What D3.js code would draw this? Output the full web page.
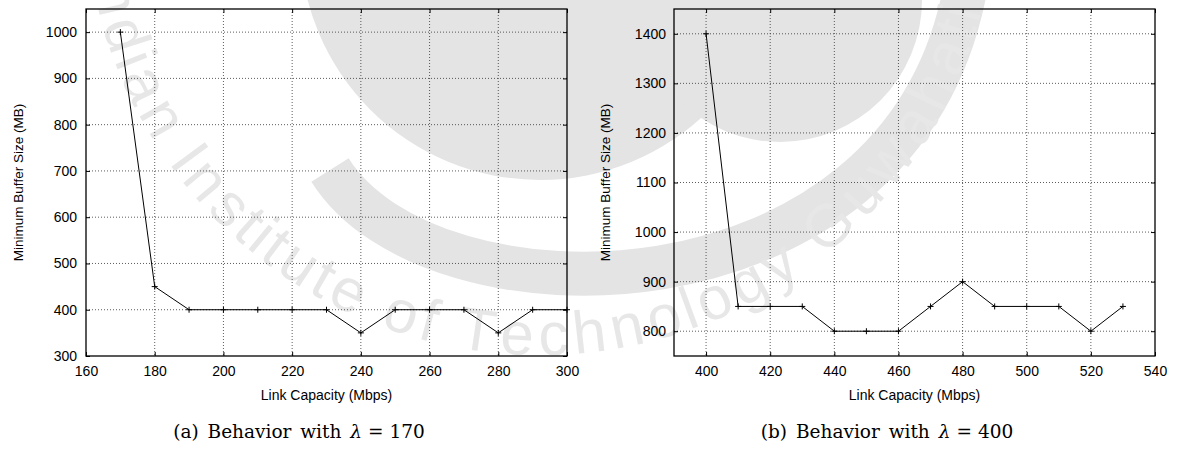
<!DOCTYPE html>
<html>
<head>
<meta charset="utf-8">
<script src="https://cdn.jsdelivr.net/npm/d3@7"></script>
<style>
  body { margin: 0; background: #fff; }
  svg { display: block; }
</style>
</head>
<body>
<div id="chart"></div>
<script>
// panel (a): lambda = 170
const capacityA = [170, 180, 190, 200, 210, 220, 230, 240, 250, 260, 270, 280, 290, 300];
const bufferA = [1000, 450, 400, 400, 400, 400, 400, 350, 400, 400, 400, 350, 400, 400];
const xTicksA = [160, 180, 200, 220, 240, 260, 280, 300];
const yTicksA = [300, 400, 500, 600, 700, 800, 900, 1000];

// panel (b): lambda = 400
const capacityB = [400, 410, 420, 430, 440, 450, 460, 470, 480, 490, 500, 510, 520, 530];
const bufferB = [1400, 850, 850, 850, 800, 800, 800, 850, 900, 850, 850, 850, 800, 850];
const xTicksB = [400, 420, 440, 460, 480, 500, 520, 540];
const yTicksB = [800, 900, 1000, 1100, 1200, 1300, 1400];

const captions = [
  { tag: '(a) Behavior with ', lambda: '170' },
  { tag: '(b) Behavior with ', lambda: '400' }
];
const sealText = 'Indian Institute of Technology Guwahati';

const W = 1178, H = 454;
const sans = "'Liberation Sans', Arial, Helvetica, sans-serif";
const svg = d3.select('#chart').append('svg')
  .attr('width', W)
  .attr('height', H);

// faint watermark of the institute seal behind everything
function drawWatermark() {
  const g = svg.append('g').attr('class', 'watermark');
  const grey = '#e4e4e4';
  g.append('circle')
    .attr('cx', 540).attr('cy', -60).attr('r', 240)
    .attr('fill', grey);
  g.append('circle')
    .attr('cx', 780).attr('cy', 0).attr('r', 142)
    .attr('fill', grey);
  // the swoosh under the seal
  g.append('path')
    .attr('d', 'M330,170 C430,330 900,330 965,-10')
    .attr('fill', 'none')
    .attr('stroke', grey)
    .attr('stroke-width', 44);

  // lettering round the seal, one glyph at a time
  const fs = 60, cx = 540, cy = -100, r = 455;
  const a0 = 172 * Math.PI / 180, a1 = 14 * Math.PI / 180;
  const probe = g.append('text').attr('font-family', sans).attr('font-size', fs);
  const widths = sealText.split('').map(ch => {
    probe.text(ch === ' ' ? '\u00a0' : ch);
    return probe.node().getComputedTextLength();
  });
  probe.remove();
  const total = d3.sum(widths);
  const k = (a0 - a1) * r / total; // stretch to fill the arc
  let s = 0;
  sealText.split('').forEach((ch, i) => {
    const mid = s + widths[i] / 2;
    s += widths[i];
    if (ch === ' ') return;
    const a = a0 - mid * k / r;
    const px = cx + r * Math.cos(a), py = cy + r * Math.sin(a);
    const rot = (a * 180 / Math.PI) - 90;
    g.append('text')
      .attr('transform', `translate(${px},${py}) rotate(${rot})`)
      .attr('text-anchor', 'middle')
      .attr('font-family', sans)
      .attr('font-size', fs)
      .attr('fill', '#e7e7e7')
      .text(ch);
  });
}

function drawPanel(opts) {
  const { left, right, top, bottom, xDomain, yDomain, xTicks, yTicks, xs, ys, yLabelX, yPad } = opts;
  const x = d3.scaleLinear().domain(xDomain).range([left, right]);
  const y = d3.scaleLinear().domain(yDomain).range([bottom, top]);
  const g = svg.append('g');

  // grid (dotted), skipping the lines that sit on the frame
  g.selectAll('.gx').data(xTicks.filter(t => x(t) > left + 1 && x(t) < right - 1)).enter()
    .append('line')
    .attr('x1', d => x(d)).attr('x2', d => x(d))
    .attr('y1', top).attr('y2', bottom)
    .attr('stroke', '#333').attr('stroke-width', 0.8)
    .attr('stroke-dasharray', '1,2');
  g.selectAll('.gy').data(yTicks.filter(t => y(t) < bottom - 1 && y(t) > top + 1)).enter()
    .append('line')
    .attr('x1', left).attr('x2', right)
    .attr('y1', d => y(d)).attr('y2', d => y(d))
    .attr('stroke', '#333').attr('stroke-width', 0.8)
    .attr('stroke-dasharray', '1,2');

  // axes, gnuplot style: inward ticks on all four sides
  const tick = 4;
  const fmt = d3.format('d');
  const axB = g.append('g').attr('transform', `translate(0,${bottom})`)
    .call(d3.axisBottom(x).tickValues(xTicks).tickSize(-tick).tickPadding(10).tickFormat(fmt));
  const axT = g.append('g').attr('transform', `translate(0,${top})`)
    .call(d3.axisTop(x).tickValues(xTicks).tickSize(-tick).tickFormat(''));
  const axL = g.append('g').attr('transform', `translate(${left},0)`)
    .call(d3.axisLeft(y).tickValues(yTicks).tickSize(-tick).tickPadding(yPad).tickFormat(fmt));
  const axR = g.append('g').attr('transform', `translate(${right},0)`)
    .call(d3.axisRight(y).tickValues(yTicks).tickSize(-tick).tickFormat(''));
  [axB, axT, axL, axR].forEach(a => {
    a.select('.domain').remove();
    a.selectAll('line').attr('stroke', '#000');
    a.selectAll('text')
      .attr('font-family', sans)
      .attr('font-size', 14)
      .attr('fill', '#000');
  });

  // frame
  g.append('rect')
    .attr('x', left).attr('y', top)
    .attr('width', right - left).attr('height', bottom - top)
    .attr('fill', 'none').attr('stroke', '#000').attr('stroke-width', 1.3);

  // data line
  const pts = xs.map((v, i) => [v, ys[i]]);
  g.append('path')
    .datum(pts)
    .attr('d', d3.line().x(d => x(d[0])).y(d => y(d[1])))
    .attr('fill', 'none').attr('stroke', '#000').attr('stroke-width', 1);
  // plus markers
  const m = 3;
  g.selectAll('.pt').data(pts).enter()
    .append('path')
    .attr('d', d => `M${x(d[0]) - m},${y(d[1])}h${2 * m}M${x(d[0])},${y(d[1]) - m}v${2 * m}`)
    .attr('stroke', '#000').attr('stroke-width', 1);

  // axis titles
  g.append('text')
    .attr('x', (left + right) / 2).attr('y', 400)
    .attr('text-anchor', 'middle')
    .attr('font-family', sans).attr('font-size', 14)
    .text('Link Capacity (Mbps)');
  g.append('text')
    .attr('transform', `translate(${yLabelX},${(top + bottom) / 2}) rotate(-90)`)
    .attr('text-anchor', 'middle')
    .attr('font-family', sans).attr('font-size', 13.5)
    .text('Minimum Buffer Size (MB)');
}

function drawCaption(cap, cx) {
  const t = svg.append('text')
    .attr('x', cx).attr('y', 438)
    .attr('text-anchor', 'middle')
    .attr('font-family', "'DejaVu Serif', 'Liberation Serif', serif")
    .attr('font-size', 18.5)
    .attr('word-spacing', 3)
    .attr('fill', '#000');
  t.append('tspan').text(cap.tag);
  t.append('tspan').attr('font-style', 'italic').text('λ');
  t.append('tspan').attr('dx', 6).text('=');
  t.append('tspan').attr('dx', 6).text(cap.lambda);
}

drawWatermark();

drawPanel({
  left: 86, right: 567, top: 9, bottom: 356,
  xDomain: [160, 300], yDomain: [300, 1050],
  xTicks: xTicksA, yTicks: yTicksA,
  xs: capacityA, ys: bufferA, yLabelX: 23, yPad: 9
});

drawPanel({
  left: 674, right: 1155, top: 9, bottom: 356,
  xDomain: [390, 540], yDomain: [750, 1450],
  xTicks: xTicksB, yTicks: yTicksB,
  xs: capacityB, ys: bufferB, yLabelX: 610, yPad: 8
});

drawCaption(captions[0], 299);
drawCaption(captions[1], 887);
</script>
</body>
</html>
